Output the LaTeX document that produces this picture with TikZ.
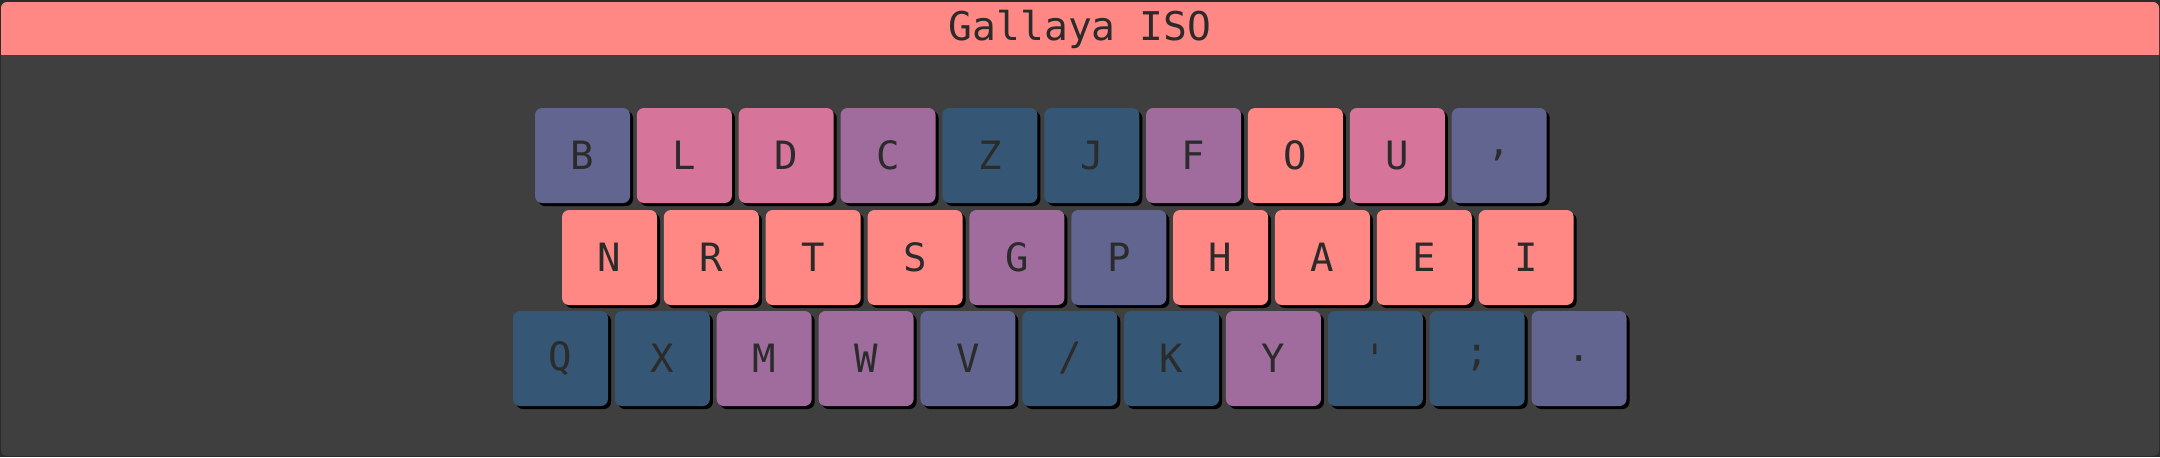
\documentclass[tikz,border=0pt]{standalone}
\usepackage{fontspec}
\newfontfamily\keyfont{DejaVu Sans Mono}
\definecolor{outerc}{HTML}{2B2B2B}
\definecolor{bodyc}{HTML}{3F3F3F}
\definecolor{salmon}{HTML}{FF8884}
\definecolor{pinkk}{HTML}{D67599}
\definecolor{purpk}{HTML}{A06C9E}
\definecolor{slatek}{HTML}{636591}
\definecolor{bluek}{HTML}{355775}
\definecolor{textc}{HTML}{2B2B2B}
\tikzset{
  keybox/.style={rectangle, rounded corners=3.5pt, minimum width=47.5pt, minimum height=47.5pt,
    inner sep=0pt, text=textc, font=\keyfont\fontsize{19.5}{24}\selectfont},
  keyshadow/.style={fill=black, rounded corners=3.5pt},
  titletext/.style={text=textc, font=\keyfont\fontsize{19.8}{24}\selectfont, inner sep=0pt}
}
% #1 name, #2 row x start, #3 index, #4 row y top, #5 colour, #6 label
\newcommand\kbkey[6]{%
  \fill[keyshadow] (#2+101.85*#3+3,#4+3) rectangle ++(95,95);
  \node[keybox, fill=#5] (#1) at (#2+101.85*#3+47.5,#4+47.5) {#6};
}
\begin{document}
\begin{tikzpicture}[x=0.5pt,y=-0.5pt]
\useasboundingbox (0,0) rectangle (2160,457);
\fill[outerc] (0,0) rectangle (2160,457);
\fill[bodyc, rounded corners=3pt] (1,2) rectangle (2159,456);
\begin{scope}
  \clip[rounded corners=3pt] (1,2) rectangle (2159,456);
  \fill[salmon] (0,0) rectangle (2160,55);
\end{scope}
\node[titletext] (title) at (1080,29) {Gallaya ISO};
% row 1
\kbkey{kB}{535}{0}{108}{slatek}{B}
\kbkey{kL}{535}{1}{108}{pinkk}{L}
\kbkey{kD}{535}{2}{108}{pinkk}{D}
\kbkey{kC}{535}{3}{108}{purpk}{C}
\kbkey{kZ}{535}{4}{108}{bluek}{Z}
\kbkey{kJ}{535}{5}{108}{bluek}{J}
\kbkey{kF}{535}{6}{108}{purpk}{F}
\kbkey{kO}{535}{7}{108}{salmon}{O}
\kbkey{kU}{535}{8}{108}{pinkk}{U}
\kbkey{kcomma}{535}{9}{108}{slatek}{,}
% row 2
\kbkey{kN}{562}{0}{210}{salmon}{N}
\kbkey{kR}{562}{1}{210}{salmon}{R}
\kbkey{kT}{562}{2}{210}{salmon}{T}
\kbkey{kS}{562}{3}{210}{salmon}{S}
\kbkey{kG}{562}{4}{210}{purpk}{G}
\kbkey{kP}{562}{5}{210}{slatek}{P}
\kbkey{kH}{562}{6}{210}{salmon}{H}
\kbkey{kA}{562}{7}{210}{salmon}{A}
\kbkey{kE}{562}{8}{210}{salmon}{E}
\kbkey{kI}{562}{9}{210}{salmon}{I}
% row 3
\kbkey{kQ}{513}{0}{311}{bluek}{Q}
\kbkey{kX}{513}{1}{311}{bluek}{X}
\kbkey{kM}{513}{2}{311}{purpk}{M}
\kbkey{kW}{513}{3}{311}{purpk}{W}
\kbkey{kV}{513}{4}{311}{slatek}{V}
\kbkey{kslash}{513}{5}{311}{bluek}{/}
\kbkey{kK}{513}{6}{311}{bluek}{K}
\kbkey{kY}{513}{7}{311}{purpk}{Y}
\kbkey{kquote}{513}{8}{311}{bluek}{\char"27}
\kbkey{ksemi}{513}{9}{311}{bluek}{;}
\kbkey{kdot}{513}{10}{311}{slatek}{.}
\end{tikzpicture}
\end{document}
